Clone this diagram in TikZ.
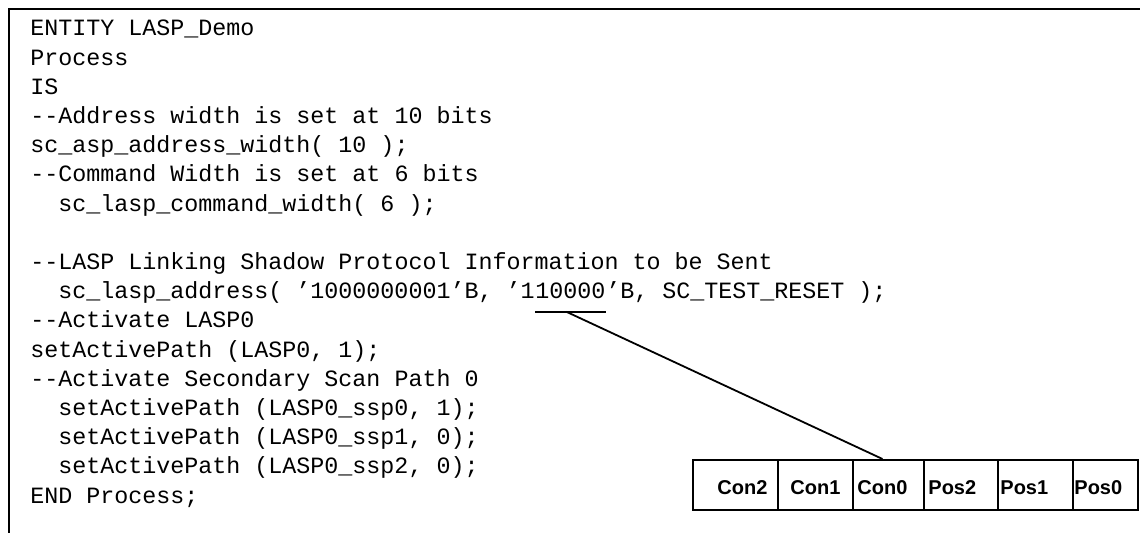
\documentclass[tikz,border=0pt]{standalone}
\usepackage{fontspec}
\setmainfont{Liberation Sans}
\setmonofont{Liberation Mono}
\usetikzlibrary{calc}

\tikzset{
	code/.style={anchor=base west, inner sep=0pt, font=\ttfamily\fontsize{11.67}{14}\selectfont},
	cell/.style={draw, line width=1pt, minimum height=25pt, inner sep=0pt},
	lbl/.style={anchor=base west, inner sep=0pt, font=\bfseries\fontsize{10}{12}\selectfont}
}

\begin{document}
\begin{tikzpicture}[x=0.5pt, y=-0.5pt]
	\useasboundingbox (0,0) rectangle (1140,533);

	% frame
	\draw[line width=1pt] (9,533) -- (9,9) -- (1140,9);

	% listing
	\node[code](l0) at (30,36) {ENTITY LASP\_Demo};
	\node[code](l1) at (30,65.2) {Process};
	\node[code](l2) at (30,94.4) {IS};
	\node[code](l3) at (30,123.6) {--Address width is set at 10 bits};
	\node[code](l4) at (30,152.8) {sc\_asp\_address\_width( 10 );};
	\node[code](l5) at (30,182) {--Command Width is set at 6 bits};
	\node[code](l6) at (58,211.2) {sc\_lasp\_command\_width( 6 );};
	\node[code](l8) at (30,269.6) {--LASP Linking Shadow Protocol Information to be Sent};
	\node[code](l9) at (58,298.8) {sc\_lasp\_address( ’1000000001’B, ’1};
	\node[code](bits) at (l9.base east) {10000};
	\node[code](l9b) at (bits.base east) {’B, SC\_TEST\_RESET );};
	\node[code](l10) at (30,328) {--Activate LASP0};
	\node[code](l11) at (30,357.2) {setActivePath (LASP0, 1);};
	\node[code](l12) at (30,386.4) {--Activate Secondary Scan Path 0};
	\node[code](l13) at (58,415.6) {setActivePath (LASP0\_ssp0, 1);};
	\node[code](l14) at (58,444.8) {setActivePath (LASP0\_ssp1, 0);};
	\node[code](l15) at (58,474) {setActivePath (LASP0\_ssp2, 0);};
	\node[code](l16) at (30,503.2) {END Process;};

	% register
	\node[cell, minimum width=42.5pt](c2) at (735.5,485) {};
	\node[cell, minimum width=37.5pt](c1) at (815.5,485) {};
	\node[cell, minimum width=35.5pt](c0) at (888.5,485) {};
	\node[cell, minimum width=37pt](p2) at (961,485) {};
	\node[cell, minimum width=37.5pt](p1) at (1035.5,485) {};
	\node[cell, minimum width=32.5pt](p0) at (1105.5,485) {};

	\node[lbl](t-c2) at (717,495) {Con2};
	\node[lbl](t-c1) at (790,495) {Con1};
	\node[lbl](t-c0) at (857,495) {Con0};
	\node[lbl](t-p2) at (928,495) {Pos2};
	\node[lbl](t-p1) at (1000,495) {Pos1};
	\node[lbl](t-p0) at (1074,495) {Pos0};

	% underline and pointer
	\draw[line width=1pt] ($(bits.base west)+(0,13)$) -- ($(bits.base east)+(0,13)$);
	\coordinate (ul) at ($(bits.base)+(-4,13)$);
	\draw[line width=0.9pt] (ul) -- ([xshift=-3pt]c0.north);
\end{tikzpicture}
\end{document}
